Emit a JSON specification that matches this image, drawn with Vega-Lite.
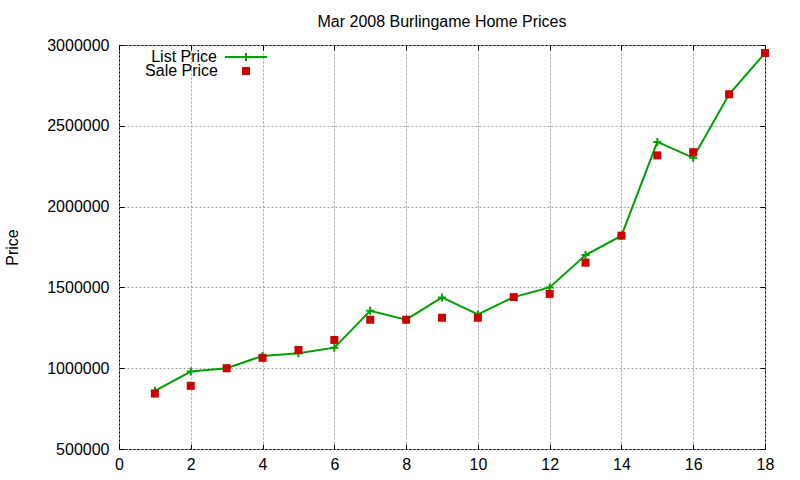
{
  "$schema": "https://vega.github.io/schema/vega-lite/v6.json",
  "width": 646,
  "height": 404,
  "autosize": {"type": "none"},
  "padding": {"left": 119, "top": 45, "right": 35, "bottom": 31},
  "background": "white",
  "title": {
    "text": "Mar 2008 Burlingame Home Prices",
    "fontSize": 16,
    "fontWeight": "normal",
    "font": "Liberation Sans",
    "color": "black",
    "offset": 5
  },
  "data": {
    "values": [
      {"x": 1, "list": 860000, "sale": 843000},
      {"x": 2, "list": 979000, "sale": 891000},
      {"x": 3, "list": 1000000, "sale": 1000000},
      {"x": 4, "list": 1076000, "sale": 1064000},
      {"x": 5, "list": 1093000, "sale": 1113000},
      {"x": 6, "list": 1127000, "sale": 1175000},
      {"x": 7, "list": 1355000, "sale": 1300000},
      {"x": 8, "list": 1300000, "sale": 1300000},
      {"x": 9, "list": 1438000, "sale": 1312000},
      {"x": 10, "list": 1333000, "sale": 1312000},
      {"x": 11, "list": 1440000, "sale": 1440000},
      {"x": 12, "list": 1500000, "sale": 1460000},
      {"x": 13, "list": 1700000, "sale": 1653000},
      {"x": 14, "list": 1820000, "sale": 1820000},
      {"x": 15, "list": 2400000, "sale": 2317000},
      {"x": 16, "list": 2302000, "sale": 2337000},
      {"x": 17, "list": 2695000, "sale": 2695000},
      {"x": 18, "list": 2950000, "sale": 2950000}
    ]
  },
  "config": {
    "view": {"stroke": "black", "strokeWidth": 1},
    "font": "Liberation Sans",
    "axis": {
      "domain": false,
      "labelFont": "Liberation Sans",
      "labelFontSize": 16,
      "labelColor": "black",
      "tickColor": "black",
      "tickSize": -5,
      "gridColor": "#a0a0a0",
      "gridDash": [2, 2],
      "gridWidth": 1,
      "gridOpacity": 1,
      "titleFont": "Liberation Sans",
      "titleFontSize": 16,
      "titleFontWeight": "normal",
      "titleColor": "black"
    },
    "legend": {
      "orient": "none",
      "padding": 0,
      "labelFont": "Liberation Sans",
      "labelFontSize": 16,
      "labelColor": "black",
      "labelAlign": "right",
      "title": null
    }
  },
  "layer": [
    {
      "mark": {"type": "line", "strokeWidth": 2},
      "encoding": {
        "x": {
          "field": "x",
          "type": "quantitative",
          "scale": {"domain": [0, 18], "nice": false, "zero": false},
          "axis": {"orient": "bottom", "title": null, "values": [0, 2, 4, 6, 8, 10, 12, 14, 16, 18], "format": "d", "labelPadding": 12, "labelFlush": false}
        },
        "y": {
          "field": "list",
          "type": "quantitative",
          "scale": {"domain": [500000, 3000000], "nice": false, "zero": false},
          "axis": {"orient": "left", "title": "Price", "titlePadding": 26, "values": [500000, 1000000, 1500000, 2000000, 2500000, 3000000], "format": "d", "labelPadding": 15, "labelFlush": false}
        },
        "color": {
          "datum": "List Price",
          "type": "nominal",
          "scale": {"range": ["#00a000"]},
          "legend": {
            "legendX": 105,
            "legendY": -10,
            "symbolType": "M-1,0H1M0,-0.19V0.19",
            "symbolSize": 1764,
            "symbolStrokeWidth": 2,
            "labelOffset": -51
          }
        }
      }
    },
    {
      "mark": {"type": "point", "shape": "M-1,0H1M0,-1V1", "filled": false, "stroke": "#00a000", "strokeWidth": 2, "size": 64, "opacity": 1},
      "encoding": {
        "x": {"field": "x", "type": "quantitative", "axis": null},
        "y": {"field": "list", "type": "quantitative", "axis": null}
      }
    },
    {
      "mark": {"type": "point", "shape": "square", "filled": true, "size": 64, "opacity": 1},
      "encoding": {
        "x": {"field": "x", "type": "quantitative", "axis": null},
        "y": {"field": "sale", "type": "quantitative", "axis": null},
        "fill": {
          "datum": "Sale Price",
          "type": "nominal",
          "scale": {"range": ["#cc0000"]},
          "legend": {
            "legendX": 119,
            "legendY": 18,
            "symbolType": "square",
            "symbolSize": 64,
            "symbolStrokeWidth": 0,
            "labelOffset": -36
          }
        }
      }
    },
    {
      "mark": {"type": "point", "opacity": 0},
      "encoding": {
        "x": {
          "field": "x",
          "type": "quantitative",
          "axis": {"orient": "top", "title": null, "labels": false, "grid": false, "values": [0, 2, 4, 6, 8, 10, 12, 14, 16, 18]}
        },
        "y": {
          "field": "list",
          "type": "quantitative",
          "axis": {"orient": "right", "title": null, "labels": false, "grid": false, "values": [500000, 1000000, 1500000, 2000000, 2500000, 3000000]}
        }
      }
    }
  ],
  "resolve": {"axis": {"x": "independent", "y": "independent"}}
}
